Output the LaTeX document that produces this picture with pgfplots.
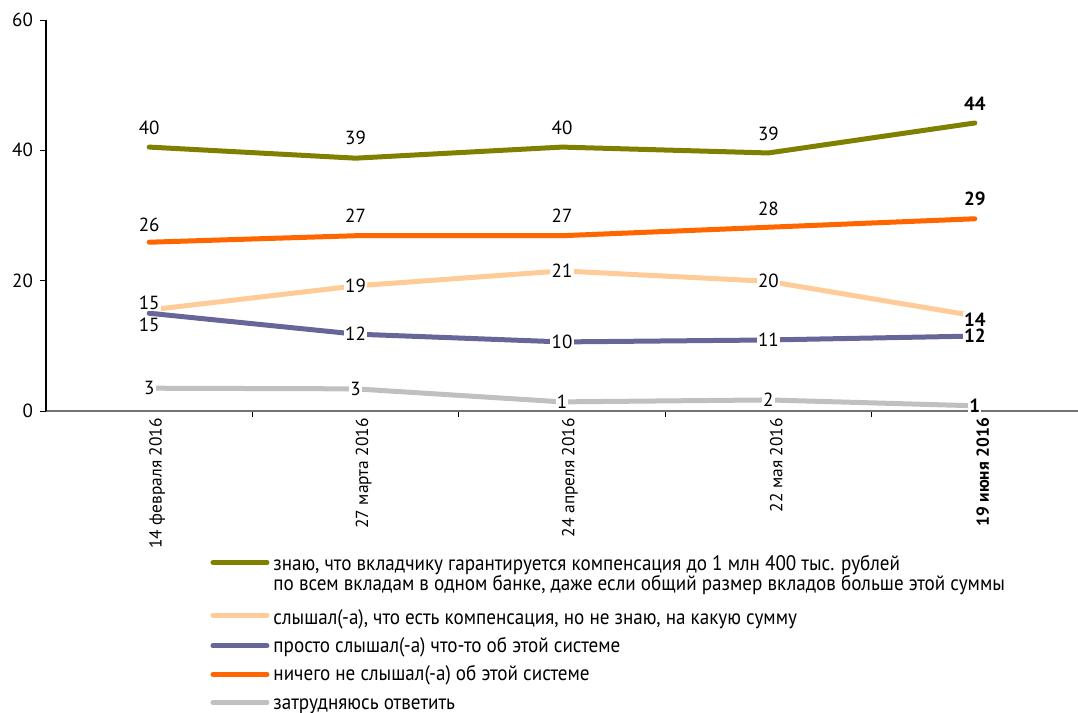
\documentclass[border=0pt]{standalone}
\usepackage{pgfplots}
\pgfplotsset{compat=1.18}
\usepackage{pgfplotstable}
\usepackage{fontspec}
\setmainfont{PT Sans}
\newfontfamily\legfont[FakeStretch=0.91]{PT Sans}
\definecolor{colA}{HTML}{808000}
\definecolor{colB}{HTML}{FFCC99}
\definecolor{colC}{HTML}{666699}
\definecolor{colD}{HTML}{FF6600}
\definecolor{colE}{HTML}{C0C0C0}
\newcommand\B[1]{\textbf{#1}}
\newcommand\st{\rule[-3pt]{0pt}{11pt}}
\pgfplotsset{firstleg/.style={legend image code/.code={\draw[##1] (0pt,6pt) -- (27pt,6pt);}}}

\pgfplotstableread{
x y lab dy
0 40.5 40 9.5
1 38.8 39 10
2 40.5 40 9.5
3 39.6 39 9.5
4 44.2 \B{44} 9.5
}\tblA
\pgfplotstableread{
x y lab dy
0 15.5 15 3.5
1 19.2 19 0
2 21.5 21 0
3 19.9 20 0
4 14.6 \B{14} -2
}\tblB
\pgfplotstableread{
x y lab dy
0 15.0 15 -6
1 11.8 12 0
2 10.6 10 0
3 10.9 11 0
4 11.5 \B{12} 0
}\tblC
\pgfplotstableread{
x y lab dy
0 25.9 26 8.5
1 26.9 27 10
2 26.9 27 10
3 28.2 28 9
4 29.5 \B{29} 10
}\tblD
\pgfplotstableread{
x y lab dy
0 3.5 3 0
1 3.4 3 0
2 1.4 1 0
3 1.7 2 0
4 0.8 \B{1} 0
}\tblE

\begin{document}
\begin{tikzpicture}
\begin{axis}[
  scale only axis,
  width=516pt, height=195.5pt,
  xmin=-0.5, xmax=4.5, ymin=0, ymax=60,
  axis x line=bottom, axis y line=left,
  axis line style={-, line width=0.6pt},
  x axis line style={draw=black!55},
  y axis line style={draw=black},
  clip=false,
  ytick={0,20,40,60},
  tick align=outside,
  major tick length=3pt,
  tick style={black, line width=0.5pt},
  /pgf/number format/assume math mode=true,
  ticklabel style={font=\fontsize{9.5}{11}\selectfont},
  xtick={0.5,1.5,2.5,3.5,4.5},
  xticklabels={},
  extra x ticks={0,1,2,3,4},
  extra x tick labels={14 февраля 2016,27 марта 2016,24 апреля 2016,22 мая 2016,\textbf{19 июня 2016}},
  extra x tick style={major tick length=0pt, tick label style={rotate=90, anchor=east, font=\fontsize{8.7}{11}\selectfont, yshift=-4pt}},
  every axis plot/.append style={line width=2.5pt, line cap=round, line join=round},
  point meta=explicit symbolic,
  nodes near coords,
  visualization depends on={\thisrow{dy} \as \dy},
  nodes near coords style={anchor=center, yshift=\dy*1pt, fill=white, inner sep=0.6pt, text=black, font=\fontsize{9.5}{11}\selectfont},
  legend style={at={(0.159,-0.358)}, anchor=north west, draw=none, fill=none,
    font=\legfont\fontsize{10.5}{10}\selectfont, row sep=0.7pt,
    cells={anchor=west, align=left}, inner sep=0pt},
  legend image code/.code={\draw[#1] (0pt,0pt) -- (27pt,0pt);},
]
\addplot[colA, firstleg] table[x=x, y=y, meta=lab] {\tblA};
\addlegendentry{знаю, что вкладчику гарантируется компенсация до 1 млн 400 тыс. рублей\\по всем вкладам в одном банке, даже если общий размер вкладов больше этой суммы}
\addplot[colB] table[x=x, y=y, meta=lab] {\tblB};
\addlegendentry{\rule[-3pt]{0pt}{13.5pt}слышал(-а), что есть компенсация, но не знаю, на какую сумму}
\addplot[colC] table[x=x, y=y, meta=lab] {\tblC};
\addlegendentry{\st просто слышал(-а) что-то об этой системе}
\addplot[colD] table[x=x, y=y, meta=lab] {\tblD};
\addlegendentry{\st ничего не слышал(-а) об этой системе}
\addplot[colE] table[x=x, y=y, meta=lab] {\tblE};
\addlegendentry{\st затрудняюсь ответить}
\end{axis}
\pgfresetboundingbox
\path (-23pt,-151pt) rectangle (516pt,205.5pt);
\end{tikzpicture}
\end{document}
